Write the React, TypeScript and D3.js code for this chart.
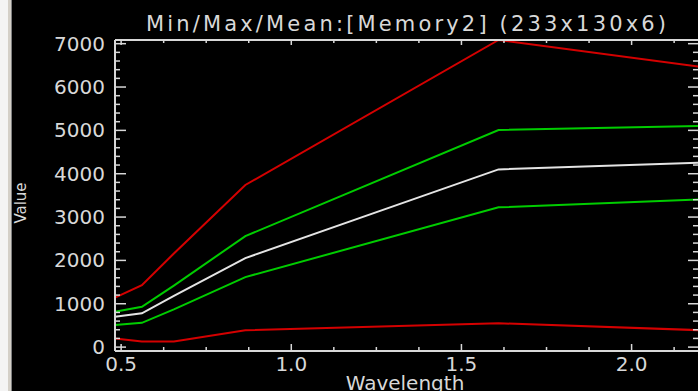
import * as d3 from 'd3';

const wavelengths = [0.482, 0.561, 0.655, 0.865, 1.609, 2.201];
const maxValues = [1140, 1430, 2160, 3740, 7085, 6470];
const meanPlusStd = [815, 930, 1420, 2560, 5008, 5100];
const meanValues = [700, 780, 1180, 2054, 4100, 4253];
const meanMinusStd = [508, 560, 870, 1615, 3224, 3408];
const minValues = [200, 130, 130, 390, 550, 390];

const xMajor = [0.5, 1.0, 1.5, 2.0];
const xLabels = ['0.5', '1.0', '1.5', '2.0'];
const yMajor = [0, 1000, 2000, 3000, 4000, 5000, 6000, 7000];

const W = 698;
const H = 391;
const left = 115;
const right = 700;
const top = 40;
const bottom = 351;

const FG = '#d8d8d8';
const FONT = '"DejaVu Sans", sans-serif';

export default function App() {
  const x = d3.scaleLinear().domain([0.482, 2.201]).range([left, right]);
  const y = d3.scaleLinear().domain([-90, 7085]).range([bottom, top]);

  const line = d3
    .line<number>()
    .x((_, i) => x(wavelengths[i]))
    .y((d) => y(d));

  const series = [
    { values: maxValues, color: '#d40000' },
    { values: meanPlusStd, color: '#00cc00' },
    { values: meanValues, color: '#e4e4e4' },
    { values: meanMinusStd, color: '#00cc00' },
    { values: minValues, color: '#d40000' },
  ];

  // minor ticks every 0.125 / 200
  const xMinor = d3.range(0.5, 2.2, 0.125).filter((v) => !xMajor.some((m) => Math.abs(m - v) < 1e-6));
  const yMinor = d3.range(0, 7001, 200).filter((v) => v % 1000 !== 0);

  return (
    <svg
      width={W}
      height={H}
      style={{ position: 'fixed', left: 0, top: 0, background: '#000' }}
    >
      <rect x={0} y={0} width={W} height={H} fill="#000" />
      {/* window edge on the left */}
      <rect x={0} y={0} width={8} height={H} fill="#f4f4f4" />
      <rect x={8} y={0} width={3} height={H} fill="#d4d0c8" />
      <rect x={11} y={0} width={1} height={H} fill="#808080" />

      <text
        x={406}
        y={31}
        textAnchor="middle"
        fill={FG}
        fontFamily={FONT}
        fontSize={21}
        textLength={520}
        lengthAdjust="spacing"
      >
        Min/Max/Mean:[Memory2] (233x130x6)
      </text>

      {/* data lines */}
      {series.map((s, i) => (
        <path key={i} d={line(s.values) ?? ''} fill="none" stroke={s.color} strokeWidth={2} />
      ))}

      {/* frame */}
      <g stroke={FG} strokeWidth={2} fill="none">
        <line x1={left} y1={top} x2={right} y2={top} />
        <line x1={left} y1={bottom} x2={right} y2={bottom} />
        <line x1={left} y1={top} x2={left} y2={bottom} />
        <line x1={right} y1={top} x2={right} y2={bottom} />
      </g>

      {/* x ticks */}
      <g stroke={FG} strokeWidth={1.5}>
        {xMajor.map((v) => (
          <g key={`xm${v}`}>
            <line x1={x(v)} x2={x(v)} y1={bottom} y2={bottom - 7} />
            <line x1={x(v)} x2={x(v)} y1={top} y2={top + 5} />
          </g>
        ))}
        {xMinor.map((v) => (
          <g key={`xn${v}`}>
            <line x1={x(v)} x2={x(v)} y1={bottom} y2={bottom - 4} />
            <line x1={x(v)} x2={x(v)} y1={top} y2={top + 3} />
          </g>
        ))}
        {yMajor.map((v) => (
          <g key={`ym${v}`}>
            <line x1={left} x2={left + 11} y1={y(v)} y2={y(v)} />
            <line x1={right} x2={right - 12} y1={y(v)} y2={y(v)} />
          </g>
        ))}
        {yMinor.map((v) => (
          <g key={`yn${v}`}>
            <line x1={left} x2={left + 5} y1={y(v)} y2={y(v)} />
            <line x1={right} x2={right - 7} y1={y(v)} y2={y(v)} />
          </g>
        ))}
      </g>

      {/* tick labels */}
      <g fill={FG} fontFamily={FONT} fontSize={20}>
        {yMajor.map((v) => (
          <text key={`yl${v}`} x={105} y={y(v) + 7} textAnchor="end">
            {v}
          </text>
        ))}
        {xMajor.map((v, i) => (
          <text key={`xl${v}`} x={x(v)} y={371} textAnchor="middle">
            {xLabels[i]}
          </text>
        ))}
      </g>

      <text x={405} y={390} textAnchor="middle" fill={FG} fontFamily={FONT} fontSize={20}>
        Wavelength
      </text>
      <text
        transform="translate(26,203) rotate(-90)"
        textAnchor="middle"
        fill={FG}
        fontFamily={FONT}
        fontSize={15}
      >
        Value
      </text>
    </svg>
  );
}
